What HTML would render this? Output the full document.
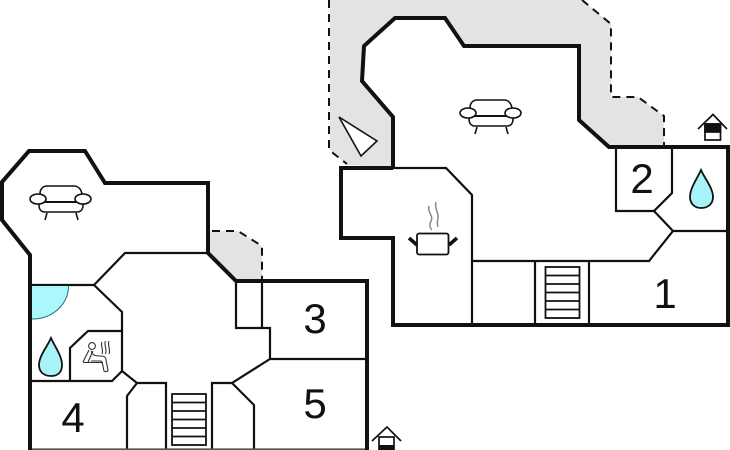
<!DOCTYPE html>
<html>
<head>
<meta charset="utf-8">
<style>
html,body{margin:0;padding:0;background:#fff;width:730px;height:450px;overflow:hidden}
svg{display:block}
text{font-family:"Liberation Sans",sans-serif;font-size:42px;fill:#111;text-anchor:middle}
</style>
</head>
<body>
<svg width="730" height="450" viewBox="0 0 730 450" xmlns="http://www.w3.org/2000/svg">
<defs>
<g id="sofa" fill="#fff" stroke="#111" stroke-width="1.6">
<path d="M40 194C40 189 43 186 47 186H74C78 186 81 189 82 194V204H40Z"/>
<path d="M39 205C39 209 41 212 45 212H77C81 212 83 209 83 205V202H39Z"/>
<path d="M44 202H77" stroke-width="2"/>
<ellipse cx="38" cy="199" rx="8" ry="5"/>
<ellipse cx="83" cy="199" rx="8" ry="5"/>
<path d="M47 213L45 220M76 213L78 220" fill="none"/>
</g>
<g id="stair" fill="#fff" stroke="#111" stroke-width="1.8">
<rect x="0" y="0" width="34" height="51"/>
<path d="M0 8.5H34M0 17H34M0 25.5H34M0 34H34M0 42.5H34"/>
</g>
</defs>

<!-- gray terraces -->
<polygon points="208,231 238,231 262,246 262,281 236,281 208,253" fill="#e3e3e3"/>
<polygon points="330,0 582,0 611,24 611,97 638,97 664,116 664,147 609,147 579,120 579,46 464,46 445,18 395,18 364,46 362,81 393,117 393,167 347,165 330,150" fill="#e3e3e3"/>

<!-- dashed terrace edges -->
<g fill="none" stroke="#111" stroke-width="2" stroke-dasharray="8 6">
<path d="M212 231H238L262 246V281"/>
<path d="M329 0V150L347 164"/>
<path d="M582 0L611 24V97H638L664 116V147"/>
</g>

<!-- thin interior walls -->
<g fill="none" stroke="#111" stroke-width="2.200" stroke-linejoin="miter">
<path d="M30 285H94L125 253H208"/>
<path d="M94 285L122 312V371L112 381H30"/>
<path d="M122 331H88L70 348V381"/>
<path d="M122 371L137 383H166V449"/>
<path d="M137 383L127 396V449"/>
<path d="M212 449V383H232L270 359H367"/>
<path d="M232 383L254 405V449"/>
<path d="M270 359V328H236V281"/>
<path d="M262 281V328"/>
<path d="M30 449.5H367" stroke="#555"/>

<path d="M393 168H446L472 195V325"/>
<path d="M472 261H649L673 231H728"/>
<path d="M673 231L654 211H616V147"/>
<path d="M672 147V193L654 211"/>
<path d="M535 261V325M589 261V325"/>
</g>

<!-- thick outer walls -->
<g fill="none" stroke="#111" stroke-width="4" stroke-linejoin="miter">
<path d="M30 450V255L2 220V182L29 151H85L105 183H208V253L236 281H367V450"/>
<path d="M393 167V117L362 81L364 46L395 18H445L464 46H579V120L609 147H728V325H393V238H341V168H393"/>
</g>

<!-- stairs -->
<use href="#stair" x="172" y="394"/>
<use href="#stair" x="545.500" y="267"/>

<!-- sofas -->
<use href="#sofa"/>
<use href="#sofa" x="430" y="-86"/>

<!-- viewpoint triangle -->
<polygon points="339,117 377,141 361,156" fill="#fff" stroke="#111" stroke-width="1.6"/>

<!-- pool quarter circle -->
<path d="M32 286H68.500A36 33 0 0 1 32 319Z" fill="#aaf8fc"/>
<path d="M68.500 286A36 33 0 0 1 32 319" fill="none" stroke="#1f6f78" stroke-width="1"/>

<!-- drops -->
<path d="M51 338C47 347 39 356 39 365C39 372 44 376 51 376C58 376 62 372 62 365C62 356 55 347 51 338Z" fill="#a8f3f8" stroke="#111" stroke-width="1.8"/>
<path d="M701 170C697 179 690 188 690 197C690 204 695 208 701 208C708 208 713 204 713 197C713 188 705 179 701 170Z" fill="#a8f3f8" stroke="#111" stroke-width="1.8"/>

<!-- sauna icon -->
<g fill="none" stroke="#333" stroke-width="1.1">
<circle cx="92" cy="346" r="3.400"/>
<path d="M89 350L83 362M93 351L88 362M83 362.500H103"/>
<path d="M91 351C93 356 96 356 101 356C104 356 106 357 106 360L108 370C108 372 105 372 104 371C103 367 103 363 101 361H91"/>
<path d="M102 342C100 346 104 349 102 354M105.500 341C103.500 345 107.500 349 105.500 354M109 341C107 345 111 349 109 354"/>
</g>

<!-- pot -->
<rect x="417" y="233.500" width="31.500" height="21" rx="2" fill="#fff" stroke="#111" stroke-width="1.8"/>
<path d="M409 238L417 245M457 238L449 245" stroke="#111" stroke-width="3.600" fill="none"/>
<path d="M429 206C427 212 434 216 431 221C429 225 430 228 432 230M436 202C434 208 439 213 438 218C437 222 437 224 438 227" stroke="#8a8a8a" stroke-width="1.5" fill="none"/>

<!-- house icons -->
<g fill="none" stroke="#111" stroke-width="1.7">
<rect x="705" y="124" width="15.500" height="16" fill="#fff"/>
<rect x="705" y="124" width="15.500" height="8" fill="#111"/>
<path d="M698 129L713 114.500L727 129"/>
<rect x="379" y="437" width="15" height="15" fill="#fff"/>
<path d="M372 441L387 427L401 441"/>
</g>
<rect x="379" y="445" width="15" height="5" fill="#111"/>

<!-- room numbers -->
<text x="315" y="333">3</text>
<text x="315" y="418">5</text>
<text x="73" y="432">4</text>
<text x="642" y="193">2</text>
<text x="665" y="308">1</text>
</svg>
</body>
</html>
